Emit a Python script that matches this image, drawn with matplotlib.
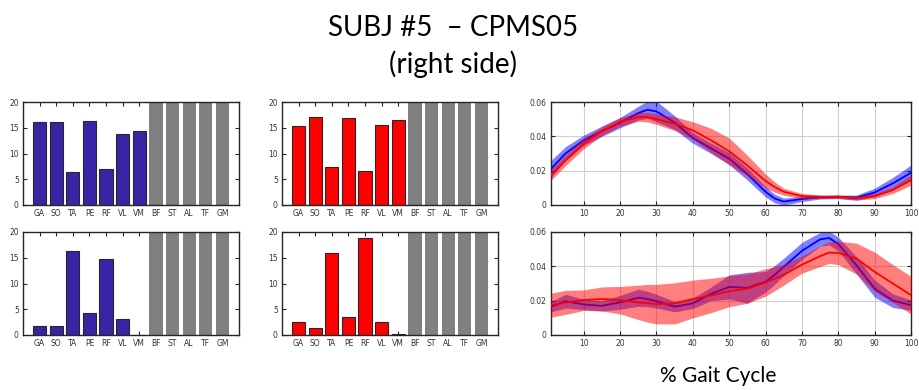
import matplotlib.pyplot as plt
import numpy as np

# muscles
muscles = ['GA', 'SO', 'TA', 'PE', 'RF', 'VL', 'VM', 'BF', 'ST', 'AL', 'TF', 'GM']
n_meas = 7  # only the first 7 muscles were recorded, the rest are grey

# bar values (synergy weights)
w1_blue = [16.2, 16.2, 6.5, 16.4, 6.9, 13.8, 14.4]
w1_red = [15.4, 17.1, 7.3, 16.9, 6.6, 15.6, 16.45]
w2_blue = [1.8, 1.7, 16.4, 4.3, 14.8, 3.2, 0.0]
w2_red = [2.5, 1.35, 16.0, 3.5, 18.9, 2.45, 0.25]
grey_val = 20

# activation profiles over gait cycle
gait = [1, 5, 10, 15, 20, 25, 27.5, 30, 35, 40, 45, 50, 55, 60, 62.5, 65, 70,
        75, 77.5, 80, 85, 90, 95, 100]

c1_blue = [0.021, 0.030, 0.0377, 0.043, 0.048, 0.0535, 0.0555, 0.0545, 0.048, 0.039, 0.033,
           0.027, 0.018, 0.0077, 0.0038, 0.002, 0.0035, 0.0045, 0.0046, 0.0048, 0.0043,
           0.0073, 0.0126, 0.0188]
c1_blue_sd = [0.005, 0.004, 0.003, 0.003, 0.003, 0.004, 0.005, 0.006, 0.004, 0.003, 0.003,
              0.0035, 0.0035, 0.003, 0.0025, 0.002, 0.0015, 0.001, 0.001, 0.001, 0.0015,
              0.0025, 0.0035, 0.0045]
c1_red = [0.0174, 0.026, 0.0358, 0.043, 0.0484, 0.0513, 0.0512, 0.050, 0.0474, 0.0435,
          0.0377, 0.0313, 0.023, 0.014, 0.0105, 0.0077, 0.0052, 0.0048, 0.0048, 0.0048,
          0.0039, 0.0052, 0.0087, 0.0145]
c1_red_sd = [0.003, 0.003, 0.003, 0.0025, 0.0025, 0.0025, 0.0028, 0.003, 0.004, 0.005, 0.007,
             0.0077, 0.006, 0.004, 0.003, 0.002, 0.0015, 0.001, 0.001, 0.001, 0.001, 0.0015,
             0.002, 0.003]

c2_blue = [0.0165, 0.0197, 0.0178, 0.017, 0.019, 0.0217, 0.021, 0.0197, 0.0165, 0.0184,
           0.024, 0.028, 0.0275, 0.031, 0.035, 0.0397, 0.049, 0.0557, 0.0565, 0.053,
           0.0406, 0.027, 0.020, 0.0174]
c2_blue_sd = [0.003, 0.004, 0.003, 0.003, 0.004, 0.005, 0.0045, 0.004, 0.003, 0.003, 0.004,
              0.007, 0.009, 0.006, 0.0055, 0.005, 0.005, 0.004, 0.004, 0.004, 0.005, 0.005,
              0.004, 0.003]
c2_red = [0.0174, 0.019, 0.0203, 0.021, 0.0203, 0.019, 0.0185, 0.018, 0.0184, 0.021, 0.023,
          0.0255, 0.027, 0.0306, 0.0328, 0.035, 0.041, 0.0459, 0.048, 0.0478, 0.0445, 0.0368,
          0.030, 0.0232]
c2_red_sd = [0.007, 0.007, 0.006, 0.007, 0.008, 0.010, 0.011, 0.0115, 0.012, 0.011, 0.010,
             0.009, 0.0085, 0.008, 0.007, 0.006, 0.005, 0.006, 0.0063, 0.0068, 0.009, 0.0115,
             0.011, 0.011]

blue_bar = '#3b23a6'
red_bar = '#ff0000'
edge = '#262626'
W, H = 920, 390


def px_axes(fig, left, right, top, bottom):
    return fig.add_axes([left / W, 1 - bottom / H, (right - left) / W, (bottom - top) / H])


def style(ax):
    for s in ax.spines.values():
        s.set_color(edge)
        s.set_linewidth(1.0)
    ax.tick_params(direction='in', length=3, width=0.8, color=edge, labelsize=5.5,
                   labelcolor='#333333', top=True, right=True, pad=3)


def bar_panel(ax, vals, color):
    x = np.arange(1, len(muscles) + 1)
    ax.bar(x[:n_meas], vals, width=0.8, color=color, edgecolor=edge, linewidth=0.8, zorder=2)
    ax.bar(x[n_meas:], [grey_val] * (len(muscles) - n_meas), width=0.8, color='#808080',
           linewidth=0, zorder=2)
    ax.set_xlim(0, 13)
    ax.set_ylim(0, 20)
    ax.set_xticks(x)
    ax.set_xticklabels(muscles)
    ax.set_yticks([0, 5, 10, 15, 20])
    style(ax)


def curve_panel(ax, mb, sb, mr, sr):
    g = np.array(gait)
    mb, sb, mr, sr = map(np.array, (mb, sb, mr, sr))
    ax.fill_between(g, mb - sb, mb + sb, color='#0000ff', alpha=0.5, linewidth=0, zorder=2)
    ax.plot(g, mb, color='#0000ff', lw=1.3, solid_joinstyle='round', zorder=3)
    ax.fill_between(g, mr - sr, mr + sr, color='#ff0000', alpha=0.5, linewidth=0, zorder=4)
    ax.plot(g, mr, color='#ff0000', lw=1.3, solid_joinstyle='round', zorder=5)
    ax.set_xlim(1, 100)
    ax.set_ylim(0, 0.06)
    ax.set_xticks(range(10, 101, 10))
    ax.set_yticks([0, 0.02, 0.04, 0.06])
    ax.set_yticklabels(['0', '0.02', '0.04', '0.06'])
    ax.grid(True, color='#d0d0d0', lw=0.8, zorder=0)
    ax.set_axisbelow(True)
    style(ax)


fig = plt.figure(figsize=(9.2, 3.9), dpi=100)

rows = [(102, 205), (232, 335)]
ax = px_axes(fig, 23, 239, *rows[0]); bar_panel(ax, w1_blue, blue_bar)
ax = px_axes(fig, 282, 498, *rows[0]); bar_panel(ax, w1_red, red_bar)
ax = px_axes(fig, 551, 911, *rows[0]); curve_panel(ax, c1_blue, c1_blue_sd, c1_red, c1_red_sd)
ax = px_axes(fig, 23, 239, *rows[1]); bar_panel(ax, w2_blue, blue_bar)
ax = px_axes(fig, 282, 498, *rows[1]); bar_panel(ax, w2_red, red_bar)
ax = px_axes(fig, 551, 911, *rows[1]); curve_panel(ax, c2_blue, c2_blue_sd, c2_red, c2_red_sd)

fig.text(453 / W, 1 - 28 / H, 'SUBJ #5  \u2013 CPMS05', ha='center', va='center',
         fontsize=20, family='Lato')
fig.text(453 / W, 1 - 64 / H, '(right side)', ha='center', va='center',
         fontsize=20, family='Lato')
fig.text(718 / W, 1 - 376 / H, '% Gait Cycle', ha='center', va='center',
         fontsize=15, family='Lato')

fig.savefig('out.png', dpi=100)
